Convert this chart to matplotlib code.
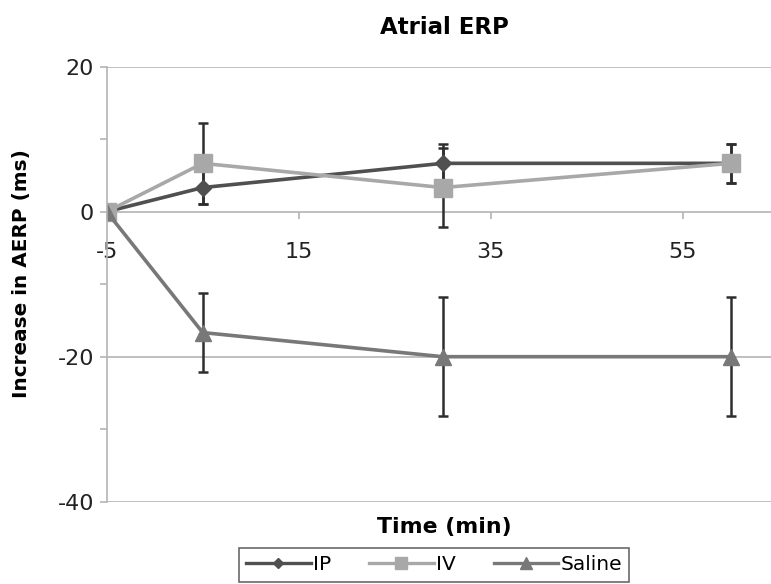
import matplotlib
matplotlib.use("Agg")
import matplotlib.pyplot as plt
from matplotlib.ticker import MultipleLocator
from matplotlib.lines import Line2D

plt.rcParams['font.family'] = ['DejaVu Sans']
plt.rcParams['axes.unicode_minus'] = False

# data
time_min = [-5, 5, 30, 60]
ip_mean = [0, 3.33, 6.67, 6.67]
ip_err = [0, 2.3, 2.7, 2.7]
iv_mean = [0, 6.67, 3.33, 6.67]
iv_err = [0, 5.6, 5.5, 2.7]
saline_mean = [0, -16.67, -20, -20]
saline_err = [0, 5.4, 8.2, 8.2]

x_ticks = [-5, 15, 35, 55]
y_ticks = [20, 0, -20, -40]

fig = plt.figure(figsize=(7.71, 5.84), dpi=100)
ax = fig.add_axes([106.7 / 771, 82.3 / 584, 1 - 106.7 / 771, 435 / 584])

grid_col = '#b4b4b4'
err_col = '#2e2e2e'

series = [
    ("IP", ip_mean, ip_err, '#505050', 'D', 8),
    ("IV", iv_mean, iv_err, '#a8a8a8', 's', 13),
    ("Saline", saline_mean, saline_err, '#787878', '^', 12),
]

handles = []
for name, m, e, col, mk, ms in series:
    ax.errorbar(time_min, m, yerr=e, color=col, ecolor=err_col, elinewidth=1.8,
                capsize=3.6, capthick=1.8, marker=mk, markersize=ms, linewidth=2.6)
    handles.append(Line2D([], [], color=col, marker=mk, markersize=ms * 0.7,
                          linewidth=2.4, label=name))

ax.set_xlim(-5, 64.2)
ax.set_ylim(-40, 20)
ax.set_xticks(x_ticks)
ax.set_yticks(y_ticks)
ax.yaxis.set_minor_locator(MultipleLocator(10))

for yv in [20, -20, -40]:
    ax.axhline(yv, color=grid_col, linewidth=1.2, zorder=0)

for s in ['top', 'right']:
    ax.spines[s].set_visible(False)
ax.spines['left'].set_color(grid_col)
ax.spines['left'].set_linewidth(1.2)
ax.spines['bottom'].set_position(('data', 0))
ax.spines['bottom'].set_color(grid_col)
ax.spines['bottom'].set_linewidth(1.2)
ax.spines['bottom'].set_zorder(0)

ax.tick_params(axis='x', direction='out', length=5, width=1.2, color=grid_col,
               labelsize=16, pad=17, labelcolor='#222222')
ax.tick_params(axis='y', which='both', direction='out', length=5, width=1.2,
               color=grid_col, labelsize=16, pad=4, labelcolor='#222222')

fig.text(22 / 771, 1 - 274 / 584, "Increase in AERP (ms)", rotation=90,
         ha='center', va='center', fontsize=14.4, fontweight='bold')
fig.text(444 / 771, 1 - 533 / 584, "Time (min)", ha='center', va='baseline',
         fontsize=15.8, fontweight='bold')
fig.text(444 / 771, 1 - 33.5 / 584, "Atrial ERP", ha='center', va='baseline',
         fontsize=16.5, fontweight='bold')

leg = fig.legend(handles=handles, loc='center', bbox_to_anchor=(434 / 771, 1 - 565 / 584),
                 ncol=3, fontsize=14.5, frameon=True, fancybox=False, handlelength=3.2,
                 columnspacing=1.9, handletextpad=0.1, borderpad=0.35,
                 borderaxespad=0, edgecolor='#444444')
leg.get_frame().set_linewidth(1.2)

fig.savefig("out.png", dpi=100)
